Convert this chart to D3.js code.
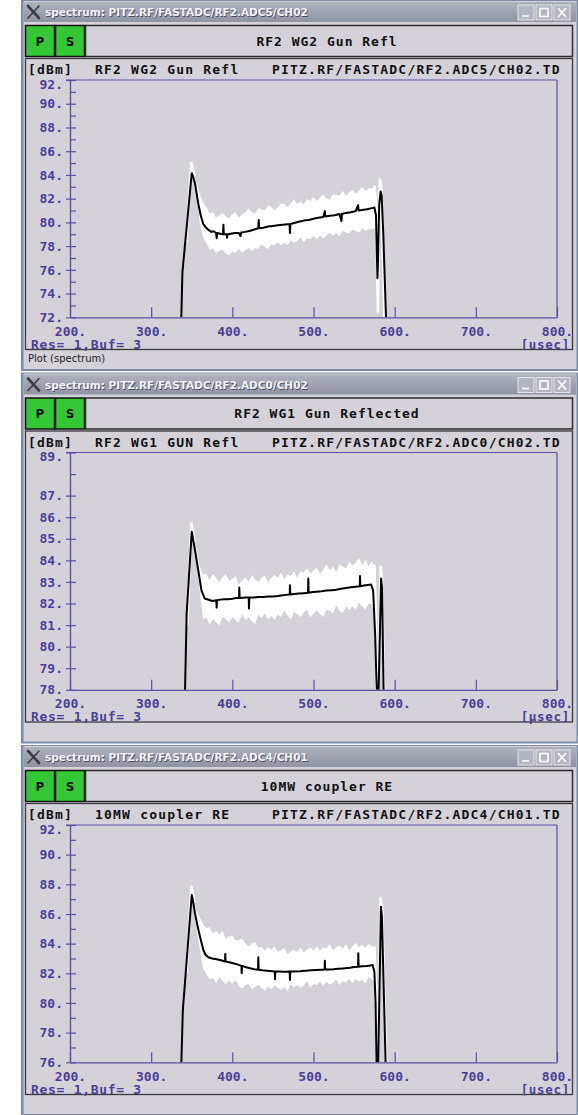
<!DOCTYPE html>
<html>
<head>
<meta charset="utf-8">
<script src="https://cdn.jsdelivr.net/npm/d3@7"></script>
<style>
  html, body { margin: 0; padding: 0; background: #ffffff; }
  svg { display: block; }
</style>
</head>
<body>
<svg id="chart" width="578" height="1115"></svg>
<script>
// ---------------------------------------------------------------
// Data: RF2 fast ADC traces (time in µs, level in dBm)
// ---------------------------------------------------------------
const timeTicks = [200, 300, 400, 500, 600, 700, 800];

// sample grid of the noisy (white) trace envelope
const bandTimes = [352, 356, 360, 364, 368, 372, 376, 380, 384, 388, 392, 396, 400, 404, 408, 412,
  416, 420, 424, 428, 432, 436, 440, 444, 448, 452, 456, 460, 464, 468, 472, 476, 480, 484, 488,
  492, 496, 500, 504, 508, 512, 516, 520, 524, 528, 532, 536, 540, 544, 548, 552, 556, 560, 564,
  568, 572, 576];

// --- RF2 WG2 Gun Refl (ADC5 / CH02)
const wg2MajorTicks = [72, 74, 76, 78, 80, 82, 84, 86, 88, 90, 92];
const wg2MinorTicks = [73, 75, 77, 79, 81, 83, 85, 87, 89, 91];
const wg2Trace = [[337, 71.6], [338.5, 75.8], [350, 84.15], [351.5, 83.9], [354, 83.3], [358, 81.6],
  [361, 80.6], [364, 79.9], [367, 79.6], [370, 79.4], [374, 79.2], [377, 79.25], [380, 79.1],
  [380.7, 78.67], [381.5, 79.1], [385, 79.05], [388.5, 79.0], [389, 79.8], [389.5, 79.0], [393, 79.0],
  [393.5, 78.7], [394, 79.0], [398, 79.05], [403, 79.1], [408, 79.1], [410, 78.85], [411, 79.15],
  [416, 79.2], [422, 79.3], [427, 79.4], [432, 79.5], [432.5, 80.2], [433, 79.5], [438, 79.55],
  [444, 79.65], [450, 79.7], [456, 79.75], [462, 79.8], [468, 79.85], [470.5, 79.85], [471, 79.1],
  [471.5, 79.85], [476, 79.95], [482, 80.05], [488, 80.15], [494, 80.2], [500, 80.3], [506, 80.4],
  [512, 80.45], [514, 80.95], [514.5, 80.5], [520, 80.55], [526, 80.6], [532, 80.7], [534.5, 80.1],
  [535, 80.7], [540, 80.8], [546, 80.85], [552, 80.95], [555, 81.45], [555.5, 81.0], [560, 81.05],
  [566, 81.1], [572, 81.2], [575, 81.25], [577, 80.6], [578, 77.5], [578.8, 75.3], [579.5, 77],
  [581, 81.5], [582.7, 82.6], [584, 82.2], [586, 79], [589.5, 71.6]];
const wg2BandHi = [84.3, 83.3, 82.35, 81.65, 81.3, 80.75, 80.85, 80.4, 80.6, 80.8, 80.5, 80.35, 80.7,
  80.85, 80.4, 80.65, 80.85, 81.15, 80.85, 80.75, 81.2, 81.1, 81.0, 81.45, 81.3, 81.0, 81.3, 81.6,
  81.55, 81.3, 81.55, 81.95, 81.55, 81.75, 81.5, 81.95, 81.8, 82.15, 81.8, 82.1, 82.35, 82.0, 81.9,
  82.35, 82.3, 82.25, 82.65, 82.2, 82.55, 82.7, 82.4, 82.65, 83.0, 82.65, 82.9, 82.85, 83.05];
const wg2BandLo = [83.6, 82.3, 80.0, 78.7, 78.3, 77.7, 77.8, 77.4, 77.6, 77.7, 77.35, 77.2, 77.55,
  77.45, 77.8, 77.45, 77.65, 77.85, 77.55, 77.85, 77.75, 78.15, 77.9, 77.75, 78.15, 78.1, 78.35, 78.05,
  78.3, 78.1, 78.5, 78.3, 78.45, 78.75, 78.3, 78.65, 78.6, 78.85, 78.6, 78.9, 78.65, 78.9, 79.15,
  78.9, 79.1, 78.85, 79.3, 79.15, 79.1, 79.4, 79.3, 79.15, 79.5, 79.3, 79.45, 79.4, 79.55];
const wg2PeakHalo = [[343, 78.3], [349.6, 85.0], [351.2, 84.6], [353.5, 83.9]];
const wg2TailHalo = [[575, 83.1], [577.3, 81.5], [578.5, 76], [579.3, 72.5], [580.3, 79],
  [581.8, 83.6], [583.2, 83.1], [585.5, 77.5], [587.5, 71.6]];

// --- RF2 WG1 Gun Reflected (ADC0 / CH02)
const wg1MajorTicks = [78, 79, 80, 81, 82, 83, 84, 85, 86, 87, 89];
const wg1MinorTicks = [88];
const wg1Trace = [[341.5, 77.6], [343.7, 81.5], [350, 85.33], [351.5, 85.0], [354, 84.48], [358, 83.55],
  [362, 82.6], [366, 82.23], [369, 82.2], [372.5, 82.15], [376, 82.12], [380.2, 82.15], [380.7, 81.81],
  [381.2, 82.15], [385, 82.18], [390, 82.2], [395, 82.2], [400, 82.22], [404, 82.25], [408.3, 82.25],
  [408.6, 82.74], [409, 82.25], [413, 82.27], [417, 82.28], [420.2, 82.28], [420.5, 81.77], [421, 82.28],
  [426, 82.28], [432, 82.3], [438, 82.3], [444, 82.32], [450, 82.33], [456, 82.35], [462, 82.38],
  [466, 82.4], [470.7, 82.42], [471, 82.85], [471.4, 82.42], [476, 82.44], [482, 82.46], [488, 82.48],
  [493.3, 82.5], [493.6, 83.16], [494, 82.5], [499, 82.53], [504, 82.55], [510, 82.57], [516, 82.6],
  [522, 82.62], [528, 82.64], [534, 82.68], [540, 82.72], [546, 82.75], [552, 82.78], [557, 82.8],
  [557.3, 83.27], [557.7, 82.8], [562, 82.83], [567, 82.86], [571, 82.88], [573.5, 82.6], [576, 80.5],
  [577.5, 78.5], [578.5, 77.6], [580, 77.6], [583.3, 83.16], [584.5, 82.7], [586.5, 77.6]];
const wg1BandHi = [85.1, 84.5, 83.7, 83.33, 83.38, 83.08, 83.36, 83.19, 82.98, 83.22, 83.36, 83.05,
  83.14, 83.28, 82.88, 83.07, 83.21, 83.01, 83.31, 83.12, 82.98, 83.19, 83.3, 82.97, 83.19, 83.31,
  83.18, 83.45, 83.12, 83.35, 83.28, 83.5, 83.18, 83.5, 83.43, 83.65, 83.37, 83.54, 83.66, 83.38,
  83.55, 83.82, 83.54, 83.71, 83.44, 83.81, 83.73, 83.61, 83.93, 83.76, 83.89, 84.11, 83.79, 84.02,
  83.74, 83.96, 83.6];
const wg1BandLo = [84.9, 84.0, 82.5, 81.27, 81.35, 81.02, 81.27, 81.13, 80.99, 81.4, 81.26, 81.12,
  81.38, 81.24, 81.1, 81.51, 81.22, 81.38, 81.19, 81.05, 81.47, 81.33, 81.54, 81.26, 81.42, 81.24,
  81.5, 81.37, 81.68, 81.44, 81.25, 81.61, 81.52, 81.38, 81.59, 81.7, 81.36, 81.52, 81.69, 81.51,
  81.38, 81.7, 81.67, 81.54, 81.91, 81.68, 81.55, 81.87, 81.7, 81.88, 81.7, 82.03, 81.86, 81.73,
  82.0, 81.97, 81.2];
const wg1PeakHalo = [[344.5, 81], [349.5, 85.72], [351.5, 85.3], [353.5, 84.85]];
const wg1TailHalo = [[575, 83.8], [576.6, 81.5], [577.6, 77.6], [579.5, 77.6], [582.8, 83.7],
  [584.3, 83.2], [586.4, 79], [587.3, 77.6]];

// --- 10MW coupler RE (ADC4 / CH01)
const cplMajorTicks = [76, 78, 80, 82, 84, 86, 88, 90, 92];
const cplMinorTicks = [77, 79, 81, 83, 85, 87, 89, 91];
const cplTrace = [[337, 75.6], [339, 79.5], [350, 87.28], [351.5, 86.9], [354, 86.05], [357.3, 85.15],
  [360.2, 84.47], [364.3, 83.57], [367, 83.25], [370.4, 83.08], [375, 83.0], [380.7, 82.95], [386, 82.88],
  [391, 82.8], [391.3, 83.3], [391.7, 82.8], [396, 82.75], [401, 82.68], [406, 82.6], [411.2, 82.5],
  [411.5, 82.0], [412, 82.5], [416, 82.43], [421.8, 82.34], [427, 82.28], [431.7, 82.24], [432, 83.08],
  [432.4, 82.24], [437, 82.2], [442, 82.18], [447, 82.15], [452.3, 82.13], [452.6, 81.6], [453, 82.13],
  [458, 82.12], [462.8, 82.11], [467, 82.11], [470.7, 82.12], [471, 81.55], [471.4, 82.12], [476, 82.13],
  [483.4, 82.14], [490, 82.17], [497, 82.2], [504, 82.22], [510, 82.24], [513.7, 82.25], [514, 82.85],
  [514.4, 82.25], [519, 82.26], [524.4, 82.27], [530, 82.3], [536, 82.33], [545, 82.38], [550, 82.42],
  [554.9, 82.45], [555.2, 83.35], [555.6, 82.45], [560, 82.47], [565.5, 82.49], [570, 82.53],
  [572.9, 82.56], [575, 82.1], [576.5, 80], [577.8, 75.6], [579.6, 75.6], [583.1, 86.49], [584.3, 85.8],
  [589, 75.6]];
const cplBandHi = [87.0, 86.2, 85.75, 85.3, 85.03, 85.11, 84.68, 84.85, 84.62, 84.84, 84.31, 84.5,
  84.54, 84.21, 84.23, 84.35, 84.02, 83.79, 84.03, 84.1, 83.73, 83.78, 83.52, 83.78, 83.58, 83.85,
  83.43, 83.56, 83.7, 83.29, 83.49, 83.59, 83.45, 83.76, 83.38, 83.6, 83.72, 83.55, 83.81, 83.53,
  83.74, 83.65, 83.97, 83.53, 83.75, 83.86, 83.68, 83.95, 83.56, 83.83, 84.04, 83.75, 83.91, 83.72,
  83.98, 83.83, 83.8];
const cplBandLo = [86.8, 85.0, 83.6, 82.3, 81.97, 81.6, 81.69, 81.38, 81.74, 81.5, 81.3, 81.5, 81.3,
  81.55, 81.15, 80.96, 81.22, 81.28, 80.95, 81.08, 81.26, 80.99, 80.82, 81.12, 80.92, 81.17, 81.02,
  80.87, 81.09, 80.81, 81.28, 81.05, 81.22, 81.05, 81.18, 81.46, 81.03, 81.3, 81.22, 81.44, 81.16,
  81.43, 81.25, 81.37, 81.59, 81.21, 81.48, 81.4, 81.62, 81.34, 81.61, 81.43, 81.55, 81.32, 81.73,
  81.6, 81.4];
const cplPeakHalo = [[343.5, 82], [349.5, 87.84], [351.5, 87.4], [353.5, 86.8]];
const cplTailHalo = [[575, 83.8], [576.8, 81], [578, 75.6], [579.2, 75.6], [582.7, 87.06],
  [584.6, 86.2], [587.5, 80], [590, 75.6]];

// ---------------------------------------------------------------
// Window descriptions
// ---------------------------------------------------------------
const windows = [
  { top: 0, winTitle: "spectrum: PITZ.RF/FASTADC/RF2.ADC5/CH02", title: "RF2 WG2 Gun Refl",
    name: "RF2 WG2 Gun Refl", addr: "PITZ.RF/FASTADC/RF2.ADC5/CH02.TD", unit: "[usec]",
    yDomain: [72, 92], major: wg2MajorTicks, minor: wg2MinorTicks, trace: wg2Trace,
    hi: wg2BandHi, lo: wg2BandLo, halos: [wg2PeakHalo, wg2TailHalo], status: "Plot (spectrum)" },
  { top: 372.5, winTitle: "spectrum: PITZ.RF/FASTADC/RF2.ADC0/CH02", title: "RF2 WG1 Gun Reflected",
    name: "RF2 WG1 GUN Refl", addr: "PITZ.RF/FASTADC/RF2.ADC0/CH02.TD", unit: "[\u00b5sec]",
    yDomain: [78, 89], major: wg1MajorTicks, minor: wg1MinorTicks, trace: wg1Trace,
    hi: wg1BandHi, lo: wg1BandLo, halos: [wg1PeakHalo, wg1TailHalo], status: "" },
  { top: 745, winTitle: "spectrum: PITZ.RF/FASTADC/RF2.ADC4/CH01", title: "10MW coupler RE",
    name: "10MW coupler RE", addr: "PITZ.RF/FASTADC/RF2.ADC4/CH01.TD", unit: "[usec]",
    yDomain: [76, 92], major: cplMajorTicks, minor: cplMinorTicks, trace: cplTrace,
    hi: cplBandHi, lo: cplBandLo, halos: [cplPeakHalo, cplTailHalo], status: "" }
];

// ---------------------------------------------------------------
// Drawing
// ---------------------------------------------------------------
const MONO = "'DejaVu Sans Mono', 'Liberation Mono', monospace";
const SANS = "'DejaVu Sans', 'Liberation Sans', sans-serif";
const AXIS = "#5a50a4";
const LABEL = "#4a3f98";
const BODY = "#d4d2d8";

const svg = d3.select("#chart");
const defs = svg.append("defs");
const tg = defs.append("linearGradient").attr("id", "titleGrad")
  .attr("x1", 0).attr("x2", 0).attr("y1", 0).attr("y2", 1);
tg.append("stop").attr("offset", "0%").attr("stop-color", "#aeb2bd");
tg.append("stop").attr("offset", "100%").attr("stop-color", "#8f94a3");

const plotL = 70, plotR = 557, plotT = 80, plotB = 317.3;

windows.forEach((w, i) => {
  const g = svg.append("g").attr("transform", `translate(0,${w.top})`);

  // window frame and body
  g.append("rect").attr("x", 21).attr("y", 0).attr("width", 557).attr("height", 371).attr("fill", "#7a8aa8");
  g.append("rect").attr("x", 23.5).attr("y", 1).attr("width", 553).attr("height", 368).attr("fill", BODY);

  // title bar
  g.append("rect").attr("x", 24).attr("y", 2).attr("width", 552).attr("height", 20).attr("fill", "url(#titleGrad)");
  const xi = g.append("g").attr("stroke", "#3c3c44").attr("stroke-linecap", "round");
  xi.append("line").attr("x1", 28).attr("y1", 6).attr("x2", 39).attr("y2", 18).attr("stroke-width", 2.6);
  xi.append("line").attr("x1", 39).attr("y1", 6).attr("x2", 28).attr("y2", 18).attr("stroke-width", 1.6);
  g.append("text").attr("x", 45).attr("y", 16.3).attr("font-family", SANS).attr("font-weight", "bold")
    .attr("font-size", 10.5).attr("fill", "#4a4e5a").attr("transform", "translate(0.8,0.8)").text(w.winTitle);
  g.append("text").attr("x", 45).attr("y", 16.3).attr("font-family", SANS).attr("font-weight", "bold")
    .attr("font-size", 10.5).attr("fill", "#f2f3f7").text(w.winTitle);
  [518, 536, 554].forEach((bx, k) => {
    g.append("rect").attr("x", bx).attr("y", 5).attr("width", 16).attr("height", 15)
      .attr("fill", "#b3b7c2").attr("stroke", "#e6e7ec").attr("stroke-width", 1);
    const gl = g.append("g").attr("stroke", "#ffffff").attr("stroke-width", 1.6).attr("fill", "none");
    if (k === 0) gl.append("line").attr("x1", bx + 4).attr("x2", bx + 11).attr("y1", 16).attr("y2", 16);
    if (k === 1) gl.append("rect").attr("x", bx + 4).attr("y", 8.5).attr("width", 8).attr("height", 8);
    if (k === 2) {
      gl.append("line").attr("x1", bx + 4).attr("y1", 8).attr("x2", bx + 12).attr("y2", 17);
      gl.append("line").attr("x1", bx + 12).attr("y1", 8).attr("x2", bx + 4).attr("y2", 17);
    }
  });

  // toolbar: P / S buttons and title box
  [["P", 25], ["S", 55]].forEach(([t, bx]) => {
    g.append("rect").attr("x", bx + 0.5).attr("y", 25.5).attr("width", 29).attr("height", 31)
      .attr("fill", "#34c934").attr("stroke", "#111").attr("stroke-width", 1.5);
    g.append("text").attr("x", bx + 15).attr("y", 45.5).attr("text-anchor", "middle")
      .attr("font-family", SANS).attr("font-weight", "bold").attr("font-size", 12).attr("fill", "#111").text(t);
  });
  g.append("rect").attr("x", 85.5).attr("y", 25.5).attr("width", 487).attr("height", 31)
    .attr("fill", BODY).attr("stroke", "#2a2a2a").attr("stroke-width", 1.5);
  g.append("text").attr("x", 327).attr("y", 45.5).attr("text-anchor", "middle")
    .attr("font-family", MONO).attr("font-weight", "bold").attr("font-size", 13)
    .attr("letter-spacing", 1).attr("fill", "#111").text(w.title);

  // plot panel frame
  g.append("rect").attr("x", 25.5).attr("y", 58.5).attr("width", 547).attr("height", 291)
    .attr("fill", BODY).attr("stroke", "#3a3a3e").attr("stroke-width", 1.3);

  // header line
  const hdr = (x, t) => g.append("text").attr("x", x).attr("y", 74.2).attr("font-family", MONO)
    .attr("font-weight", "bold").attr("font-size", 13).attr("letter-spacing", 1.2).attr("fill", "#111").text(t);
  hdr(28, "[dBm]");
  hdr(95, w.name);
  hdr(272, w.addr);

  // scales
  const x = d3.scaleLinear().domain([200, 800]).range([plotL, plotR]);
  const y = d3.scaleLinear().domain(w.yDomain).range([plotB, plotT]);

  // data layers, clipped to the plotting box (clip rect in the group's own coordinates)
  const clipId = `plotClip${i}`;
  defs.append("clipPath").attr("id", clipId).append("rect")
    .attr("x", plotL).attr("y", plotT).attr("width", plotR - plotL).attr("height", plotB - plotT);
  const data = g.append("g").attr("clip-path", `url(#${clipId})`);

  const n = Math.min(bandTimes.length, w.hi.length, w.lo.length);
  const band = d3.range(n).map(k => ({ t: bandTimes[k], hi: w.hi[k], lo: w.lo[k] }));
  data.append("path").datum(band)
    .attr("d", d3.area().x(d => x(d.t)).y0(d => y(d.lo)).y1(d => y(d.hi)))
    .attr("fill", "#ffffff");
  const line = d3.line().x(d => x(d[0])).y(d => y(d[1]));
  w.halos.forEach(h => {
    data.append("path").datum(h).attr("d", line).attr("fill", "none")
      .attr("stroke", "#ffffff").attr("stroke-width", 2.6).attr("stroke-linejoin", "round");
  });
  data.append("path").datum(w.trace).attr("d", line).attr("fill", "none")
    .attr("stroke", "#000000").attr("stroke-width", 2).attr("stroke-linejoin", "round");

  // frame top / right
  g.append("line").attr("x1", 66).attr("x2", plotR).attr("y1", plotT).attr("y2", plotT)
    .attr("stroke", AXIS).attr("stroke-width", 1.2);
  g.append("line").attr("x1", plotR).attr("x2", plotR).attr("y1", plotT).attr("y2", plotB)
    .attr("stroke", AXIS).attr("stroke-width", 1.2);

  // y axis: outer stubs with labels, inner ticks for all values
  const yOuter = g.append("g").attr("transform", `translate(${plotL},0)`)
    .call(d3.axisLeft(y).tickValues(w.major).tickSizeInner(4).tickSizeOuter(0).tickPadding(3)
      .tickFormat(d => d + "."));
  const yInner = g.append("g").attr("transform", `translate(${plotL},0)`)
    .call(d3.axisLeft(y).tickValues(w.major.concat(w.minor)).tickSizeInner(-6).tickSizeOuter(0)
      .tickFormat(""));
  [yOuter, yInner].forEach(a => {
    a.select(".domain").attr("stroke", AXIS).attr("stroke-width", 1.2);
    a.selectAll(".tick line").attr("stroke", AXIS).attr("stroke-width", 1.2);
  });
  yOuter.selectAll(".tick text").attr("font-family", MONO).attr("font-weight", "bold")
    .attr("font-size", 13).attr("fill", LABEL)
    .attr("dy", d => d === w.yDomain[1] ? "0.62em" : "0.32em");

  // x axis
  const xAx = g.append("g").attr("transform", `translate(0,${plotB})`)
    .call(d3.axisBottom(x).tickValues(timeTicks).tickSizeInner(-10).tickSizeOuter(0).tickPadding(9)
      .tickFormat(d => d + "."));
  xAx.select(".domain").attr("stroke", AXIS).attr("stroke-width", 1.2);
  xAx.selectAll(".tick line").attr("stroke", AXIS).attr("stroke-width", 1.2);
  xAx.selectAll(".tick text").attr("font-family", MONO).attr("font-weight", "bold")
    .attr("font-size", 13).attr("fill", LABEL);

  // footer of plot panel
  g.append("text").attr("x", 31).attr("y", 348.5).attr("font-family", MONO).attr("font-weight", "bold")
    .attr("font-size", 13).attr("letter-spacing", 0.7).attr("fill", LABEL).text("Res= 1,Buf= 3");
  g.append("text").attr("x", 570).attr("y", 348.6).attr("text-anchor", "end").attr("font-family", MONO)
    .attr("font-weight", "bold").attr("font-size", 12.5).attr("letter-spacing", 0.7).attr("fill", LABEL).text(w.unit);

  // status strip
  if (w.status) {
    g.append("text").attr("x", 28).attr("y", 362).attr("font-family", SANS)
      .attr("font-size", 10).attr("fill", "#222").text(w.status);
  }
});
</script>
</body>
</html>
